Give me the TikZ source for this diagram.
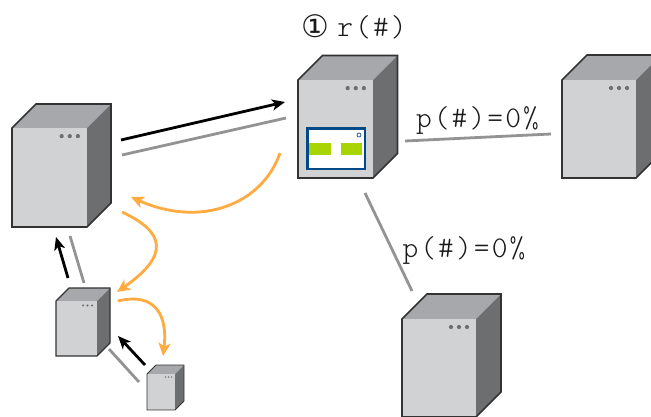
\documentclass[tikz,border=0pt]{standalone}
\usepackage{fontspec}
\newfontfamily\symfont{DejaVu Sans}
\newfontfamily\labelfont[LetterSpace=7]{Latin Modern Mono Light}
\usetikzlibrary{arrows.meta}
\definecolor{frontc}{HTML}{D1D2D4}
\definecolor{topc}{HTML}{A6A8AB}
\definecolor{sidec}{HTML}{6C6E70}
\definecolor{edgec}{HTML}{333333}
\definecolor{linkgrey}{HTML}{939393}
\definecolor{flowc}{HTML}{FFAB40}
\definecolor{panelc}{HTML}{004B87}
\definecolor{greenc}{HTML}{A8D400}
\tikzset{
  push/.style={black,line width=2.8pt,-{Stealth[length=13pt,width=11pt,inset=3.5pt]}},
  link/.style={linkgrey,line width=2.8pt},
  flow/.style={flowc,line width=2.8pt,-{Stealth[length=13pt,width=12pt,inset=3.5pt]}},
  label/.style={inner sep=0pt,font=\fontsize{30}{30}\labelfont,text=black!90},
  box/.style={draw=edgec,line width=#1,line join=miter}
}
% #1 name, #2 x, #3 y, #4 width, #5 height, #6 depth, #7 line width
\newcommand{\serverbox}[7]{%
  \coordinate (#1) at (#2,#3);
  \fill[topc] (#2,#3) -- ++(#6,-#6) -- ++(#4,0) -- ++(-#6,#6) -- cycle;
  \fill[sidec] (#2+#4,#3) -- ++(#6,-#6) -- ++(0,#5) -- ++(-#6,#6) -- cycle;
  \fill[frontc] (#2,#3) rectangle ++(#4,#5);
  \draw[box=#7] (#2,#3) -- ++(#6,-#6) -- ++(#4,0) -- ++(0,#5) -- ++(-#6,#6) -- ++(-#4,0) -- cycle;
  \pgfmathsetmacro{\unitdot}{#4/74}
  \foreach \k in {0,1,2}
    \fill[sidec] ({#2+#4-\unitdot*(25-8*\k)},{#3+\unitdot*8}) circle ({max(0.7,2.1*\unitdot)});
}
\begin{document}
\begin{tikzpicture}[x=1pt,y=-1pt]
\clip (0,0) rectangle (651,417);
\serverbox{left}{12}{128}{75}{99}{24}{1.6pt}
\serverbox{centre}{298}{80}{75}{98}{24.5}{1.6pt}
\serverbox{right}{562}{80}{74}{98}{25}{1.6pt}
\serverbox{bottom}{402}{319}{74}{98}{25}{1.6pt}
\serverbox{smallA}{56}{301}{41}{55}{13}{1.1pt}
\serverbox{smallB}{147}{374}{28}{36}{9}{0.9pt}

% panel on the central server
\fill[white,draw=panelc,line width=2.6pt] (307.5,128.5) rectangle (365,169);
\fill[greenc] (309,143) rectangle (331,155);
\fill[greenc] (341,143) rectangle (362,155);
\draw[panelc!70!gray,line width=0.8pt] (359,135) circle (2);

% labels
\node[inner sep=0pt,font=\symfont\fontsize{31}{31}\selectfont,text=black!90] (mark) at (315,26) {①};
\node[label] (rate) at (372,27) {r(\#)};
\node[label] (pright) at (477.5,120) {p(\#)=0\%};
\node[label] (pbottom) at (464,250) {p(\#)=0\%};

% connector end points
\coordinate (a1) at (121,140); \coordinate (a2) at (285,102);
\coordinate (b1) at (122,155); \coordinate (b2) at (286,118);
\coordinate (c1) at (280,153); \coordinate (c2) at (131,197);
\coordinate (d1) at (122,212); \coordinate (d2) at (117,292);
\coordinate (e1) at (118,301); \coordinate (e2) at (163,356);
\coordinate (f1) at (68,278);  \coordinate (f2) at (56,237);
\coordinate (g1) at (70,236);  \coordinate (g2) at (84,283);
\coordinate (h1) at (145,365); \coordinate (h2) at (118,336);
\coordinate (i1) at (109,349); \coordinate (i2) at (139,382);
\coordinate (j1) at (405,141); \coordinate (j2) at (551,134);
\coordinate (k1) at (365,193); \coordinate (k2) at (412,291);

\draw[push] (a1) -- (a2);
\draw[link] (b1) -- (b2);
\draw[flow] (c1) .. controls (262,205) and (200,228) .. (c2);
\draw[flow] (d1) .. controls (165,232) and (170,255) .. (d2);
\draw[flow] (e1) .. controls (155,292) and (168,315) .. (e2);
\draw[push] (f1) -- (f2);
\draw[link] (g1) -- (g2);
\draw[push] (h1) -- (h2);
\draw[link] (i1) -- (i2);
\draw[link] (j1) -- (j2);
\draw[link] (k1) -- (k2);
\end{tikzpicture}
\end{document}
